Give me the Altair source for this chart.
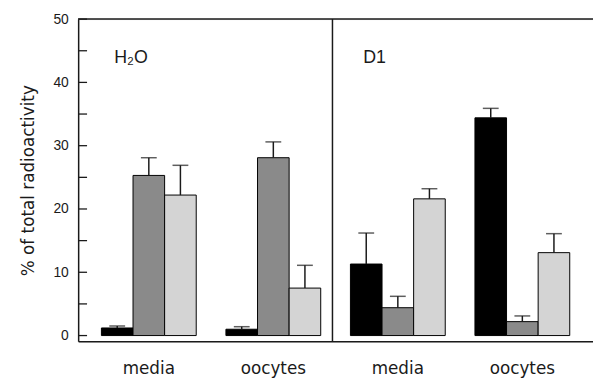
import altair as alt
import pandas as pd

groups = ["H2O|media", "H2O|oocytes", "D1|media", "D1|oocytes"]
series = ["s1", "s2", "s3"]
means = [
    [1.2, 25.3, 22.2],
    [1.0, 28.1, 7.5],
    [11.3, 4.4, 21.6],
    [34.4, 2.2, 13.1],
]
errors = [
    [0.3, 2.8, 4.7],
    [0.4, 2.5, 3.6],
    [4.9, 1.8, 1.6],
    [1.5, 0.9, 3.0],
]
panel_groups = ["H2O|media", "D1|media"]
panel_labels = ["H\u2082O", "D1"]
tick_values = [0, 5, 10, 15, 20, 25, 30, 35, 40, 45, 50]
label_values = [0, 10, 20, 30, 40, 50]
divider_group = ["H2O|oocytes"]

rows = []
for g, m, e in zip(groups, means, errors):
    for s, mv, ev in zip(series, m, e):
        rows.append({"group": g, "series": s, "mean": mv, "upper": round(mv + ev, 2)})
df = pd.DataFrame(rows)

W, H = 521, 326
ink = "#1a1a1a"

xscale = alt.Scale(domain=groups, paddingInner=0, paddingOuter=0.0675)
xaxis = alt.Axis(
    title=None, ticks=False, labelAngle=0, labelFontSize=17, labelFont="DejaVu Sans",
    labelPadding=20, labelColor=ink, domainColor=ink, domainWidth=1.5,
    labelExpr="split(datum.label, '|')[1]",
)
yscale = alt.Scale(domain=[-0.9, 50], nice=False, zero=False)
yaxis = alt.Axis(
    values=label_values, ticks=False, grid=False, labelPadding=10, labelFontSize=14,
    labelFont="Liberation Sans", labelColor=ink, domainColor=ink, domainWidth=1.5,
    title="% of total radioactivity", titleFont="DejaVu Sans", titleFontSize=17,
    titleFontWeight="normal", titleColor=ink, titlePadding=16,
)

X = alt.X("group:N", scale=xscale, axis=xaxis)
XO = alt.XOffset("series:N", scale=alt.Scale(domain=series, paddingInner=0, paddingOuter=0.47))

base = alt.Chart(df)

bars = base.mark_bar(stroke="black", strokeWidth=1).encode(
    x=X,
    xOffset=XO,
    y=alt.Y("mean:Q", scale=yscale, axis=yaxis),
    y2=alt.datum(0),
    color=alt.Color("series:N", scale=alt.Scale(domain=series, range=["#000000", "#8a8a8a", "#d4d4d4"]), legend=None),
)

whisk = base.mark_rule(color=ink, strokeWidth=1.5).encode(
    x=X, xOffset=XO, y=alt.Y("mean:Q", scale=yscale, axis=yaxis), y2="upper:Q"
)
caps = base.mark_tick(color=ink, thickness=1.5, size=16).encode(
    x=X, xOffset=XO, y=alt.Y("upper:Q", scale=yscale, axis=yaxis)
)

ticks = alt.Chart(pd.DataFrame({"v": tick_values})).mark_rule(color=ink, strokeWidth=1.3).encode(
    y=alt.Y("v:Q", scale=yscale, axis=yaxis), x=alt.value(0), x2=alt.value(9)
)

top = alt.Chart(pd.DataFrame({"v": [50]})).mark_rule(color=ink, strokeWidth=1.5).encode(
    y=alt.Y("v:Q", scale=yscale, axis=yaxis), x=alt.value(0), x2=alt.value(W)
)

divider = alt.Chart(pd.DataFrame({"group": divider_group})).mark_rule(color=ink, strokeWidth=1.5).encode(
    x=alt.X("group:N", scale=xscale, axis=xaxis, bandPosition=0.975),
    y=alt.value(0), y2=alt.value(H),
)

labels = alt.Chart(pd.DataFrame({"group": panel_groups, "label": panel_labels})).mark_text(
    align="left", baseline="alphabetic", dx=28, fontSize=18, font="Liberation Sans", color=ink
).encode(
    x=alt.X("group:N", scale=xscale, axis=xaxis, bandPosition=0),
    y=alt.value(44),
    text="label:N",
)

chart = alt.layer(bars, whisk, caps, ticks, top, divider, labels).properties(
    width=W, height=H,
    autosize=alt.AutoSizeParams(type="none"),
    padding={"left": 71, "top": 9, "right": 0, "bottom": 40},
).configure_view(stroke=None).configure(background="white")

chart.save("out.html", embed_options={"renderer": "svg", "actions": False})
